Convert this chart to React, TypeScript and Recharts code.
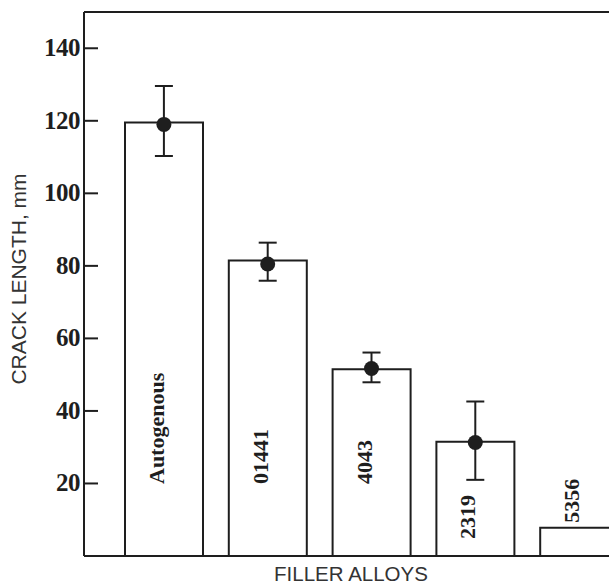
import React from 'react';
import { ComposedChart, Bar, Scatter, ErrorBar, XAxis, YAxis, ReferenceLine, LabelList, Label } from 'recharts';

const categories = ['Autogenous', '01441', '4043', '2319', '5356'];
const crackLength = [119.5, 81.5, 51.5, 31.5, 7.8];
const meanLength: (number | null)[] = [119, 80.5, 51.7, 31.3, null];
const errLow: (number | null)[] = [110.3, 75.9, 47.9, 21.0, null];
const errHigh: (number | null)[] = [129.6, 86.4, 56.1, 42.6, null];
const yTicks = [20, 40, 60, 80, 100, 120, 140];

const data = categories.map((name, i) => ({
  name,
  length: crackLength[i],
  mean: meanLength[i],
  err: meanLength[i] == null ? null : [meanLength[i]! - errLow[i]!, errHigh[i]! - meanLength[i]!],
}));
const dotData = data.filter((d) => d.mean != null);

const INK = '#1e1e1e';
const SERIF = '"Liberation Serif", "Times New Roman", serif';
const SANS = '"Liberation Sans", Arial, sans-serif';

const YTick = (props: any) => {
  const { x, y, payload } = props;
  return (
    <g>
      <line x1={x} y1={y} x2={x + 14} y2={y} stroke={INK} strokeWidth={2} />
      <text x={x - 4} y={y} dy={8} textAnchor="end" fontFamily={SERIF} fontWeight="bold" fontSize={25} fill={INK} letterSpacing={-0.5}>
        {payload.value}
      </text>
    </g>
  );
};

const BarLabel = (props: any) => {
  const { x, y, width, height, value } = props;
  const fs = 22;
  const cx = x + width / 2;
  const bottom = y + height;
  const textLen = String(value).length * fs * 0.5;
  let start: number;
  if (height < textLen + 30) {
    start = y - 5;
  } else {
    start = bottom - 72;
    if (start - textLen < y + 20) start = bottom - 17;
  }
  return (
    <text
      x={cx}
      y={start}
      transform={`rotate(-90, ${cx}, ${start})`}
      textAnchor="start"
      fontFamily={SERIF}
      fontWeight="bold"
      fontSize={fs}
      fill={INK}
    >
      {value}
    </text>
  );
};

const DotShape = (props: any) => {
  const { cx, cy } = props;
  if (cx == null || cy == null || isNaN(cy)) return <g />;
  return <circle cx={cx} cy={cy} r={7.5} fill={INK} />;
};

export default function App() {
  return (
    <div style={{ position: 'absolute', left: 0, top: 0, width: 609, height: 585, overflow: 'hidden', background: '#fff' }}>
      <ComposedChart width={631} height={585} data={data} margin={{ top: 12, right: 0, bottom: 0, left: 0 }}>
        <XAxis
          dataKey="name"
          type="category"
          allowDuplicatedCategory={false}
          tick={false}
          tickLine={false}
          axisLine={{ stroke: INK, strokeWidth: 2 }}
          height={29}
          padding={{ left: 28, right: 0 }}
        >
          <Label
            content={() => (
              <text x={351} y={581} textAnchor="middle" fontFamily={SANS} fontSize={20.5} fill="#333">
                FILLER ALLOYS
              </text>
            )}
          />
        </XAxis>
        <YAxis
          type="number"
          domain={[0, 150]}
          ticks={yTicks}
          width={84}
          tickLine={false}
          tickSize={0}
          tickMargin={0}
          tick={<YTick />}
          axisLine={{ stroke: INK, strokeWidth: 2 }}
          allowDataOverflow
        >
          <Label
            content={() => (
              <text x={26} y={279} transform="rotate(-90, 26, 279)" textAnchor="middle" fontFamily={SANS} fontSize={21} fill="#333">
                CRACK LENGTH, mm
              </text>
            )}
          />
        </YAxis>
        <ReferenceLine y={150} stroke={INK} strokeWidth={2} />
        <Bar dataKey="length" fill="#fff" stroke={INK} strokeWidth={2} barSize={78} isAnimationActive={false}>
          <LabelList dataKey="name" content={<BarLabel />} />
        </Bar>
        <Scatter data={dotData} dataKey="mean" shape={<DotShape />} isAnimationActive={false}>
          <ErrorBar dataKey="err" direction="y" width={9} stroke={INK} strokeWidth={2} />
        </Scatter>
      </ComposedChart>
    </div>
  );
}
